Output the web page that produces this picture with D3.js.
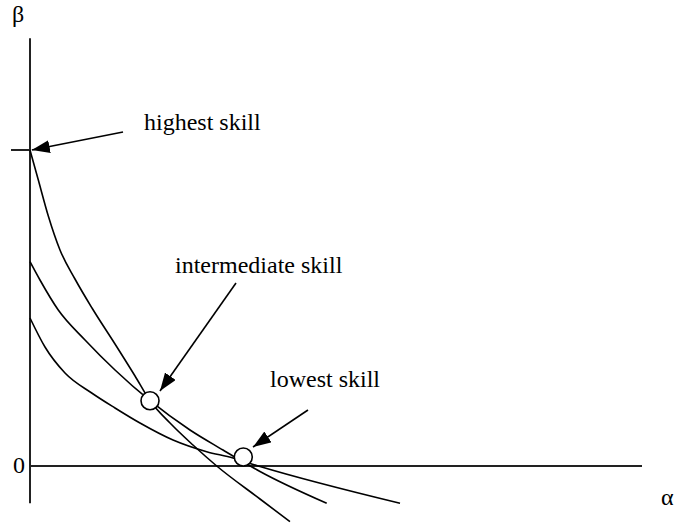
<!DOCTYPE html>
<html>
<head>
<meta charset="utf-8">
<script src="https://cdn.jsdelivr.net/npm/d3@7"></script>
<style>
body{margin:0;background:#fff}
svg text{font-family:"Liberation Serif","Times New Roman",serif;font-size:24px;fill:#000}
</style>
</head>
<body>
<div id="chart"></div>
<script>
// curves, in (alpha, beta) units
var highestSkill = [[0,5.000],[0.136,4.525],[0.299,3.956],[0.490,3.418],[0.735,2.959],[1.013,2.500],[1.389,1.930],[1.716,1.424],[1.961,1.033],[2.288,0.680],[2.663,0.332],[3.051,0.000],[3.758,-0.522],[4.248,-0.881]]
var intermediateSkill = [[0,3.233],[0.163,2.943],[0.462,2.468],[0.899,1.994],[1.389,1.519],[1.961,1.033],[2.614,0.570],[3.154,0.253],[3.513,0.047],[3.758,-0.087],[4.848,-0.590]]
var lowestSkill = [[0,2.342],[0.245,1.883],[0.572,1.472],[1.008,1.155],[1.389,0.918],[1.797,0.680],[2.337,0.411],[2.887,0.226],[3.317,0.127],[3.595,0.040],[3.758,-0.008],[6.046,-0.590]]
var circles = [[1.961,1.033],[3.485,0.142]]
var labels = ["highest skill","intermediate skill","lowest skill"]
var labelAt = [[1.863,5.316],[2.370,3.055],[3.922,1.251]]
var arrowFrom = [[1.520,5.285],[3.366,2.896],[4.542,0.886]]
var arrowTo = [[0.03,5.0],[2.124,1.187],[3.644,0.301]]
var alphaExtent = [0,10]
var betaExtent = [-0.59,6.77]
var betaTicks = [5]

var W = 678, H = 527
var x = d3.scaleLinear().domain([0,10]).range([30,642])
var y = d3.scaleLinear().domain([0,5]).range([466,150])

var svg = d3.select("#chart").append("svg").attr("width",W).attr("height",H)

svg.append("defs").append("marker")
	.attr("id","head")
	.attr("viewBox","0 0 18 13")
	.attr("markerWidth",18).attr("markerHeight",13)
	.attr("markerUnits","userSpaceOnUse")
	.attr("refX",18).attr("refY",6.5)
	.attr("orient","auto")
	.append("path").attr("d","M0,0L18,6.5L0,13Z").attr("fill","#000")

// axes
svg.append("line").attr("x1",x(0)).attr("x2",x(0)).attr("y1",y(betaExtent[0])).attr("y2",y(betaExtent[1]))
	.attr("stroke","#222").attr("stroke-width",2)
svg.append("line").attr("x1",x(alphaExtent[0])).attr("x2",x(alphaExtent[1])).attr("y1",y(0)).attr("y2",y(0))
	.attr("stroke","#222").attr("stroke-width",2)
svg.selectAll(".tick").data(betaTicks).enter().append("line")
	.attr("x1",x(0)-19).attr("x2",x(0)).attr("y1",d=>y(d)).attr("y2",d=>y(d))
	.attr("stroke","#222").attr("stroke-width",2)

svg.append("text").attr("x",12).attr("y",22).text("β")
svg.append("text").attr("x",13).attr("y",y(0)+7).text("0")
svg.append("text").attr("x",661).attr("y",505).text("α")

var line = d3.line().x(d=>x(d[0])).y(d=>y(d[1])).curve(d3.curveMonotoneX)

svg.selectAll(".curve").data([highestSkill,intermediateSkill,lowestSkill]).enter().append("path")
	.attr("d",line).attr("fill","none").attr("stroke","#000").attr("stroke-width",1.6)

svg.selectAll(".dot").data(circles).enter().append("circle")
	.attr("cx",d=>x(d[0])).attr("cy",d=>y(d[1])).attr("r",9)
	.attr("fill","#fff").attr("stroke","#000").attr("stroke-width",1.6)

for (var i in labels){
	svg.append("line")
		.attr("x1",x(arrowFrom[i][0])).attr("y1",y(arrowFrom[i][1]))
		.attr("x2",x(arrowTo[i][0])).attr("y2",y(arrowTo[i][1]))
		.attr("stroke","#000").attr("stroke-width",1.6)
		.attr("marker-end","url(#head)")
	svg.append("text").attr("x",x(labelAt[i][0])).attr("y",y(labelAt[i][1])).text(labels[i])
}
</script>
</body>
</html>
